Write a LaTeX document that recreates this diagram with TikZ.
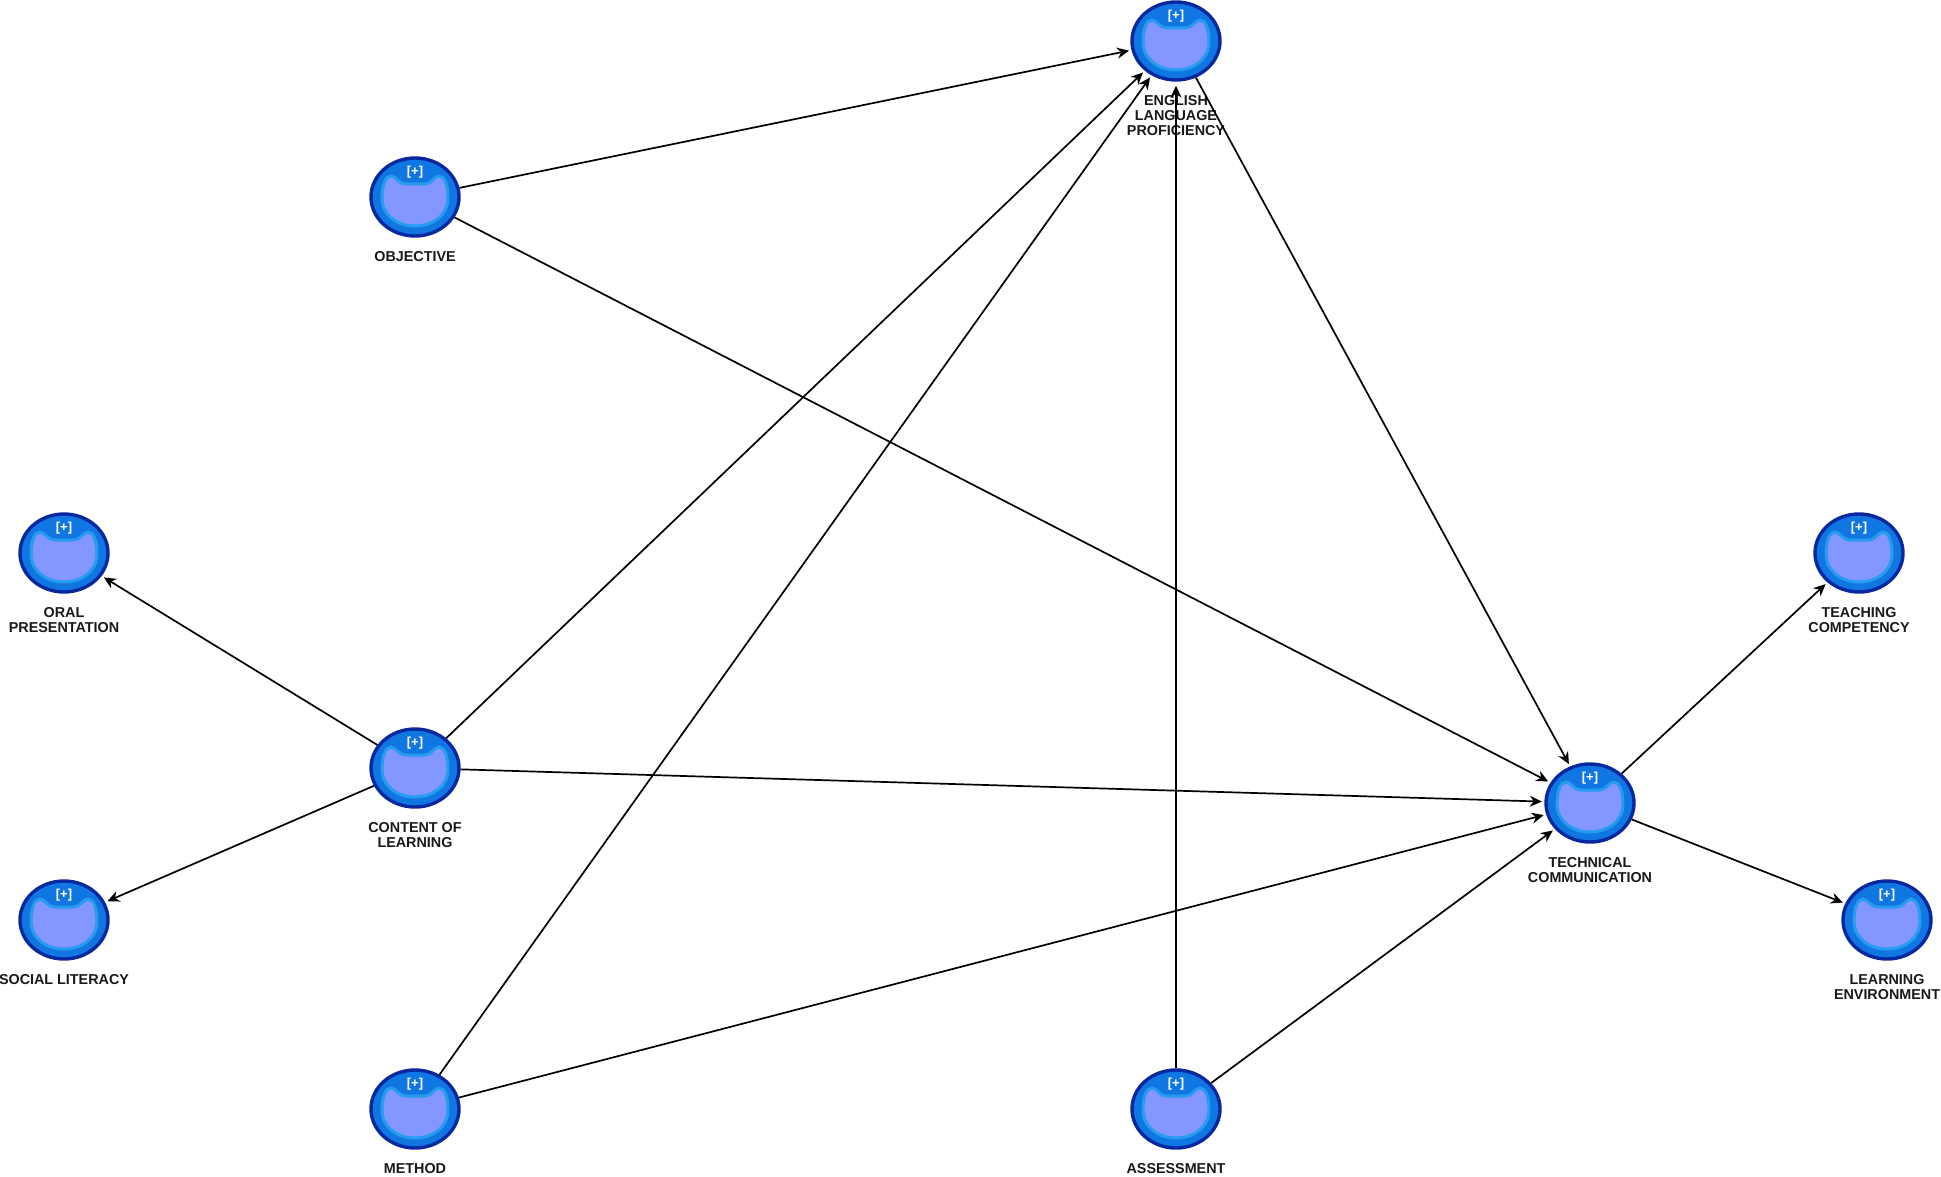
\documentclass[tikz,border=0pt]{standalone}
\usepackage{fontspec}
\setmainfont{Liberation Sans}
\usetikzlibrary{shapes.geometric,arrows.meta}
\definecolor{rimblue}{RGB}{8,40,160}
\definecolor{midblue}{RGB}{16,118,226}
\definecolor{ringblue}{RGB}{38,156,240}
\definecolor{coreblue}{RGB}{132,150,255}
\definecolor{inktext}{RGB}{25,25,25}
\tikzset{
  x=1pt,y=-1pt,
  lv/.style={ellipse,draw=rimblue,line width=3.4pt,fill=midblue,minimum width=88pt,minimum height=78pt,inner sep=0pt},
  lvlabel/.style={font=\fontsize{14.35}{15}\selectfont\bfseries,text=inktext,align=center,inner sep=0pt,anchor=north},
  plus/.style={font=\fontsize{13}{13}\selectfont\bfseries,text=white,inner sep=0pt},
  coreshape/.style={fill=coreblue,draw=ringblue,line width=3pt},
  link/.style={draw=black,line width=1.7pt,-{Stealth[length=12pt,width=11pt]},shorten >=2.5pt}
}
\newcommand{\lvnode}[5]{% name x y labelname label
  \node[lv] (#1) at (#2,#3) {};
  \path[coreshape] (#2-33,#3+1)
    .. controls (#2-33,#3-11) and (#2-30,#3-21) .. (#2-24,#3-21)
    .. controls (#2-19,#3-21) and (#2-17,#3-13) .. (#2-9,#3-13)
    -- (#2+9,#3-13)
    .. controls (#2+17,#3-13) and (#2+19,#3-21) .. (#2+24,#3-21)
    .. controls (#2+30,#3-21) and (#2+33,#3-11) .. (#2+33,#3+1)
    .. controls (#2+33,#3+18) and (#2+18,#3+29) .. (#2,#3+29)
    .. controls (#2-18,#3+29) and (#2-33,#3+18) .. (#2-33,#3+1) -- cycle;
  \node[plus] at (#2,#3-25) {[+]};
  \node[lvlabel] (#4) at (#2,#3+54.5) {#5};
}
\begin{document}
\begin{tikzpicture}
\useasboundingbox (0,0) rectangle (1941,1177);
\fill[white] (0,0) rectangle (1941,1177);
\lvnode{elp}{1176}{41}{elplab}{ENGLISH\\LANGUAGE\\PROFICIENCY}
\lvnode{obj}{415}{197}{objlab}{OBJECTIVE}
\lvnode{oral}{64}{553}{orallab}{ORAL\\PRESENTATION}
\lvnode{cont}{415}{768}{contlab}{CONTENT OF\\LEARNING}
\lvnode{soc}{64}{920}{soclab}{SOCIAL LITERACY}
\lvnode{meth}{415}{1109}{methlab}{METHOD}
\lvnode{ass}{1176}{1109}{asslab}{ASSESSMENT}
\lvnode{tech}{1590}{803}{techlab}{TECHNICAL\\COMMUNICATION}
\lvnode{teach}{1859}{553}{teachlab}{TEACHING\\COMPETENCY}
\lvnode{env}{1887}{920}{envlab}{LEARNING\\ENVIRONMENT}
\draw[link] (obj) -- (elp);
\draw[link] (obj) -- (tech);
\draw[link] (cont) -- (elp);
\draw[link] (meth) -- (elp);
\draw[link,line width=1.2pt,shorten >=4pt] (ass) -- (elp);
\draw[link] (elp) -- (tech);
\draw[link] (cont) -- (oral);
\draw[link] (cont) -- (soc);
\draw[link] (cont) -- (tech);
\draw[link] (meth) -- (tech);
\draw[link] (ass) -- (tech);
\draw[link] (tech) -- (teach);
\draw[link] (tech) -- (env);
\end{tikzpicture}
\end{document}
